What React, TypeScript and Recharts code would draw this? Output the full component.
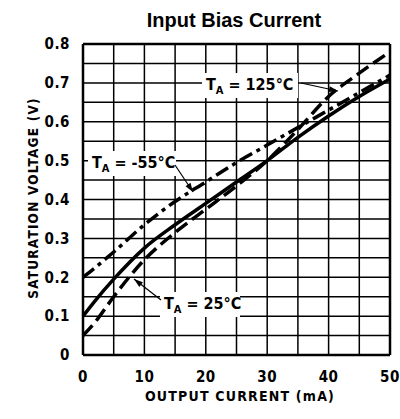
import React from 'react';
import { LineChart, Line, XAxis, YAxis, ReferenceLine } from 'recharts';

// output current (mA)
const current = [0, 2, 5, 10, 15, 20, 25, 30, 35, 40, 45, 50];
// saturation voltage (V) per ambient temperature
const vMinus55 = [0.2, 0.225, 0.265, 0.335, 0.395, 0.445, 0.495, 0.54, 0.585, 0.63, 0.675, 0.72];
const v25 = [0.1, 0.14, 0.195, 0.275, 0.335, 0.39, 0.445, 0.5, 0.56, 0.615, 0.665, 0.71];
const v125 = [0.05, 0.085, 0.15, 0.245, 0.315, 0.375, 0.435, 0.5, 0.58, 0.665, 0.725, 0.78];

const xTicks = [0, 10, 20, 30, 40, 50];
const yTicks = [0, 0.1, 0.2, 0.3, 0.4, 0.5, 0.6, 0.7, 0.8];
const gridX = [5, 10, 15, 20, 25, 30, 35, 40, 45];
const gridY = [0.05, 0.1, 0.15, 0.2, 0.25, 0.3, 0.35, 0.4, 0.45, 0.5, 0.55, 0.6, 0.65, 0.7, 0.75];

const data = current.map((c, i) => ({
  c,
  m55: vMinus55[i],
  t25: v25[i],
  t125: v125[i],
}));

const cond = '"DejaVu Sans Condensed", "DejaVu Sans", sans-serif';

const tickStyle = { fill: '#000', fontFamily: cond, fontWeight: 700, fontSize: 15, letterSpacing: 0.5 };

const TempLabel = ({ x, y, w, temp }: { x: number; y: number; w: number; temp: string }) => (
  <g>
    <rect x={x - 4} y={y - 17} width={w} height={25} fill="#fff" />
    <text x={x} y={y} fontFamily={cond} fontWeight={700} fontSize={16} fill="#000">
      <tspan>T</tspan>
      <tspan fontSize={11} dy={4}>A</tspan>
      <tspan dy={-4}>{` = ${temp}°C`}</tspan>
    </text>
  </g>
);

const Arrow = ({ x1, y1, x2, y2 }: { x1: number; y1: number; x2: number; y2: number }) => {
  const a = Math.atan2(y2 - y1, x2 - x1);
  const len = 9;
  const wid = 3;
  const bx = x2 - len * Math.cos(a);
  const by = y2 - len * Math.sin(a);
  const px = -Math.sin(a) * wid;
  const py = Math.cos(a) * wid;
  return (
    <g>
      <line x1={x1} y1={y1} x2={x2} y2={y2} stroke="#000" strokeWidth={1.2} />
      <polygon points={`${x2},${y2} ${bx + px},${by + py} ${bx - px},${by - py}`} fill="#000" />
    </g>
  );
};

export default function App() {
  return (
    <div style={{ position: 'absolute', left: 0, top: 0, width: 400, height: 419, background: '#fff' }}>
      <LineChart width={400} height={419} data={data} margin={{ top: 44, right: 10, bottom: 0, left: 0 }}>
        <XAxis
          dataKey="c"
          type="number"
          domain={[0, 50]}
          ticks={xTicks}
          axisLine={false}
          tickLine={false}
          tickSize={0}
          tickMargin={16}
          height={64}
          tick={tickStyle}
          interval={0}
        />
        <YAxis
          type="number"
          domain={[0, 0.8]}
          ticks={yTicks}
          axisLine={false}
          tickLine={false}
          tickSize={0}
          tickMargin={13}
          width={83}
          tick={tickStyle}
          interval={0}
        />
        {gridX.map((g) => (
          <ReferenceLine key={`gx${g}`} x={g} stroke="#000" strokeWidth={1.5} />
        ))}
        {gridY.map((g) => (
          <ReferenceLine key={`gy${g}`} y={g} stroke="#000" strokeWidth={1.5} />
        ))}
        <ReferenceLine x={0} stroke="#000" strokeWidth={2.5} />
        <ReferenceLine x={50} stroke="#000" strokeWidth={2.5} />
        <ReferenceLine y={0} stroke="#000" strokeWidth={2.5} />
        <ReferenceLine y={0.8} stroke="#000" strokeWidth={2.5} />
        <Line
          dataKey="t125"
          type="monotone"
          stroke="#000"
          strokeWidth={3.5}
          strokeDasharray="14 6"
          dot={false}
          isAnimationActive={false}
        />
        <Line
          dataKey="m55"
          type="monotone"
          stroke="#000"
          strokeWidth={3.5}
          strokeDasharray="14 5 4 5"
          dot={false}
          isAnimationActive={false}
        />
        <Line
          dataKey="t25"
          type="monotone"
          stroke="#000"
          strokeWidth={3.5}
          dot={false}
          isAnimationActive={false}
        />
      </LineChart>
      <svg width={400} height={419} style={{ position: 'absolute', left: 0, top: 0, pointerEvents: 'none' }}>
        <text x={234} y={27} textAnchor="middle" fontFamily='"Liberation Sans", Arial, sans-serif' fontWeight={700} fontSize={20} fill="#000">
          Input Bias Current
        </text>
        <text x={240} y={401} textAnchor="middle" fontFamily={cond} fontWeight={700} fontSize={14} letterSpacing={1.2} fill="#000">
          OUTPUT CURRENT (mA)
        </text>
        <text
          x={0}
          y={0}
          transform="translate(38,198) rotate(-90)"
          textAnchor="middle"
          fontFamily={cond}
          fontWeight={700}
          fontSize={13.5}
          letterSpacing={1.2}
          fill="#000"
        >
          SATURATION VOLTAGE (V)
        </text>
        <TempLabel x={206} y={90} w={96} temp="125" />
        <Arrow x1={301} y1={83} x2={338} y2={91} />
        <TempLabel x={92} y={168} w={88} temp="-55" />
        <Arrow x1={175} y1={165} x2={193} y2={192} />
        <TempLabel x={164} y={309} w={80} temp="25" />
        <Arrow x1={161} y1={300} x2={134} y2={279} />
      </svg>
    </div>
  );
}
